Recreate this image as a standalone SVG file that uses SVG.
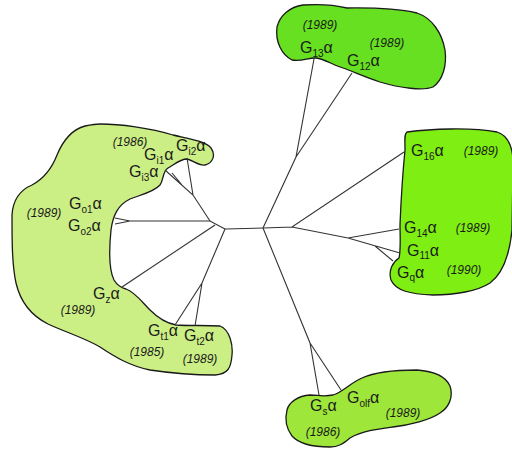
<svg xmlns="http://www.w3.org/2000/svg" width="512" height="454" viewBox="0 0 512 454">
<style>
.blob{stroke:#1a1a1a;stroke-width:1.3;stroke-linejoin:round}
.g{font-family:"Liberation Sans",Arial,sans-serif;font-size:16px;fill:#1a1a1a}
.s{font-size:10px}
.y{font-family:"Liberation Sans",Arial,sans-serif;font-size:12px;font-style:italic;fill:#1a1a1a;text-anchor:middle}
.e{stroke:#333;stroke-width:1.1;fill:none}
</style>
<rect width="512" height="454" fill="#fff"/>
<g id="cluster-gi">
<path class="blob" fill="#ccef85" d="M100,124 C120,124 150,128 173,135 C190,139 205,141 211,148 C216,155 213,163 205,165 C198,166 193,160 187,159 C180,159 175,164 168,168 C162,172 164,180 160,185 C154,192 140,195 130,199 C118,205 113,215 111,230 C109,250 109,270 114,280 C117,285 122,288 126,289 C135,292 142,302 150,310 C158,318 165,323 176,325 C190,326 205,325 220,326 C230,330 233,345 232,355 C231,368 228,374 215,375 C195,375 170,373 150,370 C130,366 115,357 100,347 C85,338 65,332 48,324 C30,315 20,300 16,283 C12,265 12,240 12,215 C13,200 20,190 32,185 C45,178 52,168 57,155 C62,143 70,130 85,126 C90,125 95,124 100,124 Z"/>
<text class="y" x="130" y="146">(1986)</text>
<text class="g" x="176" y="151">G<tspan class="s" dy="4">i2</tspan><tspan dy="-4">α</tspan></text>
<text class="g" x="144" y="160">G<tspan class="s" dy="4">i1</tspan><tspan dy="-4">α</tspan></text>
<text class="g" x="129" y="177">G<tspan class="s" dy="4">i3</tspan><tspan dy="-4">α</tspan></text>
<text class="y" x="44" y="217">(1989)</text>
<text class="g" x="69" y="209">G<tspan class="s" dy="4">o1</tspan><tspan dy="-4">α</tspan></text>
<text class="g" x="68" y="231">G<tspan class="s" dy="4">o2</tspan><tspan dy="-4">α</tspan></text>
<text class="g" x="93" y="299">G<tspan class="s" dy="4">z</tspan><tspan dy="-4">α</tspan></text>
<text class="y" x="78" y="314">(1989)</text>
<text class="g" x="148" y="336">G<tspan class="s" dy="4">t1</tspan><tspan dy="-4">α</tspan></text>
<text class="g" x="184" y="341">G<tspan class="s" dy="4">t2</tspan><tspan dy="-4">α</tspan></text>
<text class="y" x="147" y="356">(1985)</text>
<text class="y" x="200" y="363">(1989)</text>
</g>
<g id="cluster-g12">
<path class="blob" fill="#66e020" d="M277,27 C280,15 290,7 303,5 C318,4 335,5 347,8 C365,8 390,7 417,13 C432,18 442,33 445,50 C447,65 443,80 433,87 C423,91 400,88 380,82 C365,77 352,71 343,68 C333,65 323,58 315,58 C308,58 300,62 292,60 C282,55 275,42 277,27 Z"/>
<text class="y" x="320" y="29">(1989)</text>
<text class="g" x="300" y="53">G<tspan class="s" dy="4">13</tspan><tspan dy="-4">α</tspan></text>
<text class="y" x="387" y="47">(1989)</text>
<text class="g" x="347" y="66">G<tspan class="s" dy="4">12</tspan><tspan dy="-4">α</tspan></text>
</g>
<g id="cluster-gq">
<path class="blob" fill="#7fee12" d="M407,132 C430,129 470,127 497,132 C510,136 514,150 513,170 L512,230 C510,250 505,272 490,283 C478,291 455,295 433,295 C410,294 396,291 391,280 C388,270 393,262 399,258 C401,250 400,235 400,225 C401,200 403,170 405,150 C405,140 404,134 407,132 Z"/>
<text class="g" x="411" y="156">G<tspan class="s" dy="4">16</tspan><tspan dy="-4">α</tspan></text>
<text class="y" x="481" y="155">(1989)</text>
<text class="g" x="404" y="233">G<tspan class="s" dy="4">14</tspan><tspan dy="-4">α</tspan></text>
<text class="y" x="473" y="232">(1989)</text>
<text class="g" x="407" y="256">G<tspan class="s" dy="3">11</tspan><tspan dy="-3">α</tspan></text>
<text class="g" x="397" y="278">G<tspan class="s" dy="3">q</tspan><tspan dy="-3">α</tspan></text>
<text class="y" x="464" y="274">(1990)</text>
</g>
<g id="cluster-gs">
<path class="blob" fill="#9ee63a" d="M287,410 C289,402 298,396 310,395 C318,395 323,397 333,395 C343,392 350,383 362,378 C375,372 395,370 417,370 C432,371 445,375 450,386 C454,398 448,408 440,413 C430,420 410,425 393,427 C378,429 362,431 350,438 C343,444 338,447 330,447 C315,447 300,445 292,436 C286,428 285,418 287,410 Z"/>
<text class="g" x="310" y="411">G<tspan class="s" dy="4">s</tspan><tspan dy="-4">α</tspan></text>
<text class="g" x="347" y="403">G<tspan class="s" dy="4">olf</tspan><tspan dy="-4">α</tspan></text>
<text class="y" x="403" y="417">(1989)</text>
<text class="y" x="323" y="436">(1986)</text>
</g>
<g id="connectors">
<path class="e" d="M225,229 L263,228"/>
<path class="e" d="M263,228 L296,157 L314,59 M296,157 L352,73"/>
<path class="e" d="M263,228 L292,227 L404,152 M292,227 L348,238 L399,229 M348,238 L400,253 M375,246 L393,261"/>
<path class="e" d="M263,228 L310,343 L319,395 M310,343 L341,390"/>
<path class="e" d="M225,229 L210,221 L130,221 L115,218 M130,221 L115,224"/>
<path class="e" d="M210,221 L193,195 L165,170 M193,195 L187,158 M182,185 L172,173"/>
<path class="e" d="M215,225 L122,287"/>
<path class="e" d="M225,229 L202,283 L175,325 M202,283 L195,326"/>
</g>
</svg>
